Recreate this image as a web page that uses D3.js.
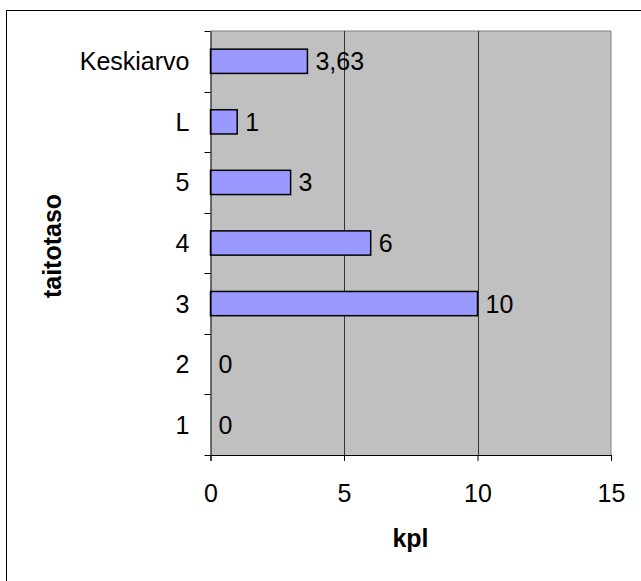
<!DOCTYPE html>
<html><head><meta charset="utf-8">
<script src="https://cdn.jsdelivr.net/npm/d3@7"></script>
<style>body{margin:0;background:#fff}svg{display:block}</style>
</head><body>
<svg id="c" width="641" height="581"></svg>
<script>
const categories = ["1","2","3","4","5","L","Keskiarvo"];
const values = [0,0,10,6,3,1,3.63];
const valueLabels = ["0","0","10","6","3","1","3,63"];
const xTicks = [0,5,10,15];

const svg = d3.select("#c");
const font = "Liberation Sans, Arial, sans-serif";
const fs = 25;
svg.append("rect").attr("x",6.5).attr("y",10.5).attr("width",700).attr("height",700)
  .attr("fill","#fff").attr("stroke","#000").attr("stroke-width",1);

const L=210.5, R=611, T=31, B=455;
const x = d3.scaleLinear().domain([0,15]).range([L,R]);
const y = d3.scaleBand().domain(categories.slice().reverse()).range([T,B]).paddingInner(0.6).paddingOuter(0.3);
const yb = d3.scaleBand().domain(categories.slice().reverse()).range([T,B]);

svg.append("rect").attr("x",L).attr("y",T).attr("width",R-L).attr("height",B-T).attr("fill","#c0c0c0");
svg.append("line").attr("x1",R).attr("x2",R).attr("y1",T).attr("y2",B).attr("stroke","#808080");
svg.append("line").attr("x1",L).attr("x2",R).attr("y1",T).attr("y2",T).attr("stroke","#808080");
svg.selectAll(".grid").data(xTicks.filter(d=>d>0&&d<15)).enter().append("line")
  .attr("x1",d=>Math.round(x(d))+0.5).attr("x2",d=>Math.round(x(d))+0.5).attr("y1",T).attr("y2",B)
  .attr("stroke","#333").attr("stroke-width",1);

svg.selectAll(".bar").data(categories).enter().filter((d,i)=>values[i]>0).append("rect")
  .attr("x",L).attr("y",d=>y(d)).attr("width",d=>x(values[categories.indexOf(d)])-L)
  .attr("height",y.bandwidth()).attr("fill","#9999ff").attr("stroke","#000").attr("stroke-width",1.5);

svg.selectAll(".vl").data(categories).enter().append("text")
  .attr("x",(d,i)=>x(values[i])+8).attr("y",d=>y(d)+y.bandwidth()/2)
  .attr("dy","0.36em").attr("font-family",font).attr("font-size",fs).text((d,i)=>valueLabels[i]);

// y axis
const yAxis = d3.axisLeft(yb).tickSize(0).tickPadding(21);
const gy = svg.append("g").attr("transform",`translate(${L},0)`).call(yAxis);
gy.select(".domain").attr("stroke","#000");
gy.selectAll("text").attr("font-family",font).attr("font-size",fs).attr("fill","#000").attr("dy","0.36em");
const bounds = [T].concat(categories.slice().reverse().map(c=>yb(c)+yb.bandwidth()));
svg.selectAll(".yt").data(bounds).enter().append("line")
  .attr("x1",L-6).attr("x2",L).attr("y1",d=>Math.round(d)+0.5).attr("y2",d=>Math.round(d)+0.5).attr("stroke","#000");

// x axis
const xAxis = d3.axisBottom(x).tickValues(xTicks).tickSize(6).tickPadding(23).tickFormat(d3.format("d"));
const gx = svg.append("g").attr("transform",`translate(0,${B})`).call(xAxis);
gx.select(".domain").attr("stroke","#000");
gx.selectAll("line").attr("stroke","#000");
gx.selectAll("text").attr("font-family",font).attr("font-size",fs).attr("fill","#000");

svg.append("text").attr("x",410.5).attr("y",547).attr("text-anchor","middle").attr("font-family",font)
  .attr("font-weight","bold").attr("font-size",fs).text("kpl");
svg.append("text").attr("transform","translate(61,246) rotate(-90)").attr("text-anchor","middle").attr("font-family",font)
  .attr("font-weight","bold").attr("font-size",fs).text("taitotaso");
</script>
</body></html>
